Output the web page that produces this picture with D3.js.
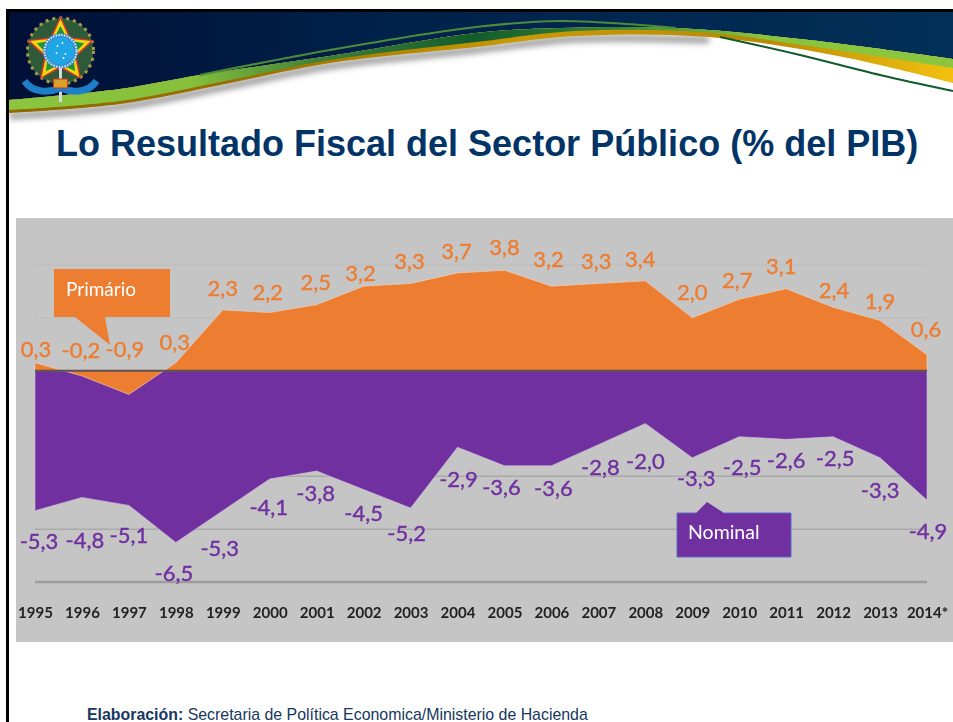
<!DOCTYPE html>
<html>
<head>
<meta charset="utf-8">
<script src="https://cdn.jsdelivr.net/npm/d3@7"></script>
<style>
  body { margin: 0; background: #fff; overflow: hidden; }
  svg { display: block; }
  .val { font-family: Lato, sans-serif; font-size: 22px; text-anchor: middle; stroke-width: 0.4px; }
  .tick text { font-family: Lato, sans-serif; font-size: 15px; font-weight: 700; fill: #222; }
</style>
</head>
<body>
<div id="chart"></div>
<script>
// Data
const years = ["1995","1996","1997","1998","1999","2000","2001","2002","2003","2004",
               "2005","2006","2007","2008","2009","2010","2011","2012","2013","2014*"];
const primario = [0.3,-0.2,-0.9,0.3,2.3,2.2,2.5,3.2,3.3,3.7,3.8,3.2,3.3,3.4,2.0,2.7,3.1,2.4,1.9,0.6];
const nominal = [-5.3,-4.8,-5.1,-6.5,-5.3,-4.1,-3.8,-4.5,-5.2,-2.9,-3.6,-3.6,-2.8,-2.0,-3.3,-2.5,-2.6,-2.5,-3.3,-4.9];
const gridTicks = [4,2,-2,-4,-6,-8];

// Hand placed label offsets from each point, the labels do not sit at a fixed distance
const primarioDx = [1,-1,-4,-1,0,-2,-1,-3,-1,-1,0,-3,-2,-5,0,-2,-5,1,0,-1];
const primarioDy = [-13,-26,-45,-20,-22,-20,-22,-13,-22,-22,-23,-27,-22,-22,-26,-19,-22,-17,-19,-26];
const nominalDx = [4,3,0,-2,-3,-1,-1,0,-4,1,-3,2,2,0,4,3,0,2,0,1];
const nominalDy = [31,43,30,31,38,28,22,24,25,32,22,23,23,38,20,31,21,22,32,31];

// Banner edges, decoration only
const bandTop = [[9,100],[120,89],[200,75],[330,56],[476,33],[560,28],[676,28],[809,40],[953,59]];
const greenBottom = [[9,110],[120,101],[230,80],[330,60],[476,42],[576,31],[700,32],[809,46],[953,68]];
const goldBottom = [[9,113],[120,104],[230,83],[330,63],[476,47],[576,36],[709,37],[843,57],[953,83]];
const thinLine = [[200,75],[330,50],[476,27],[560,21],[640,25],[676,28]];
const darkLine = [[720,37],[800,55],[880,75],[953,91]];

const orange = "#ed7d31", purple = "#7030a0", navy = "#17375e";

const svg = d3.select("#chart").append("svg")
    .attr("width", 953)
    .attr("height", 722);

const defs = svg.append("defs");

function gradient(id, stops) {
  const g = defs.append("linearGradient").attr("id", id)
    .attr("gradientUnits", "userSpaceOnUse")
    .attr("x1", 0).attr("x2", 953).attr("y1", 0).attr("y2", 0);
  stops.forEach(s => g.append("stop").attr("offset", s[0]).attr("stop-color", s[1]));
}
gradient("navyGrad", [[0,"#000f35"],[0.4,"#00214a"],[1,"#023058"]]);
gradient("greenGrad", [[0,"#8cc63f"],[0.2,"#86c03c"],[0.33,"#41823a"],[0.5,"#125c2c"],[0.66,"#3f8a36"],[0.8,"#86c53c"],[1,"#8cc63f"]]);
gradient("goldGrad", [[0,"#8f6a00"],[0.25,"#9a6f00"],[0.55,"#c99a06"],[0.8,"#b88a05"],[1,"#f2c10f"]]);
defs.append("filter").attr("id", "soft").append("feGaussianBlur").attr("stdDeviation", 3);
defs.append("filter").attr("id", "label").append("feGaussianBlur").attr("stdDeviation", 0.4);

// ---- Banner ----
const curve = d3.line().curve(d3.curveCatmullRom);
// closed band between an upper and a lower edge
const band = (top, bottom) => curve(top) + "L" + curve(bottom.slice().reverse()).slice(1) + "Z";

const banner = svg.append("g");
banner.append("rect").attr("x", 9).attr("y", 11).attr("width", 944).attr("height", 90).attr("fill", "url(#navyGrad)");
banner.append("path") // white below the band, covers the navy rectangle
  .attr("d", band(bandTop, [[9,125],[953,125]]))
  .attr("fill", "#fff");
banner.append("path") // shadow
  .attr("d", curve(goldBottom.slice(0, 7).map(p => [p[0], p[1] + 3])))
  .attr("fill", "none").attr("stroke", "#444").attr("stroke-width", 6).attr("opacity", 0.6)
  .attr("filter", "url(#soft)");
banner.append("path")
  .attr("d", band(bandTop, goldBottom))
  .attr("fill", "url(#goldGrad)");
banner.append("path")
  .attr("d", band(bandTop, greenBottom))
  .attr("fill", "url(#greenGrad)");
banner.append("path")
  .attr("d", curve(thinLine))
  .attr("fill", "none").attr("stroke", "#4b8b3a").attr("stroke-width", 2.2);
banner.append("path")
  .attr("d", curve(darkLine))
  .attr("fill", "none").attr("stroke", "#0f5a2c").attr("stroke-width", 2);

// frame
svg.append("rect").attr("x", 6).attr("y", 9).attr("width", 947).attr("height", 3).attr("fill", "#000");
svg.append("rect").attr("x", 6).attr("y", 9).attr("width", 3).attr("height", 713).attr("fill", "#000");

// ---- Emblem ----
const emblem = svg.append("g").attr("transform", "translate(60.5,51)");
emblem.append("circle").attr("r", 33).attr("fill", "#2f5a3a").attr("stroke", "#a89a4a").attr("stroke-width", 3).attr("stroke-dasharray", "3 4");
function star(R, r) {
  return d3.range(10).map(i => {
    const a = -Math.PI / 2 + i * Math.PI / 5, q = i % 2 ? r : R;
    return [q * Math.cos(a), q * Math.sin(a)];
  }).join(" ");
}
emblem.append("polygon").attr("points", star(35, 17)).attr("fill", "#d8352a");
emblem.append("polygon").attr("points", star(32, 15)).attr("fill", "#f4d80f");
emblem.append("polygon").attr("points", star(25, 13)).attr("fill", "#21913f");
emblem.append("circle").attr("r", 17.5).attr("fill", "#3a8fd0");
emblem.append("circle").attr("r", 16).attr("fill", "none").attr("stroke", "#e8f4fb").attr("stroke-width", 1.8).attr("stroke-dasharray", "1.4 1.4");
emblem.append("circle").attr("r", 13.5).attr("fill", "#1fa6e4");
emblem.selectAll("circle.st").data([[-3,-5],[2,-8],[5,3],[-4,2],[3,7]]).join("circle")
  .attr("class", "st").attr("cx", d => d[0]).attr("cy", d => d[1]).attr("r", 0.9).attr("fill", "#fff");
emblem.append("rect").attr("x", -1.5).attr("y", 17).attr("width", 3).attr("height", 34).attr("fill", "#d5dadf");
emblem.append("path")
  .attr("d", "M-36,30 C-28,42 -12,42 0,37 C12,42 28,42 36,30")
  .attr("fill", "none").attr("stroke", "#1c7fc8").attr("stroke-width", 7);
emblem.append("rect").attr("x", -7).attr("y", 28).attr("width", 14).attr("height", 9).attr("fill", "#d8a12a").attr("stroke", "#c8322a");

// ---- Title ----
svg.append("text")
  .attr("x", 56).attr("y", 156)
  .style("font-family", "'Liberation Sans', Arial, sans-serif")
  .style("font-size", "36px").style("font-weight", "700")
  .style("fill", "#003366")
  .text("Lo Resultado Fiscal del Sector Público (% del PIB)");

// ---- Chart ----
svg.append("rect").attr("x", 16).attr("y", 218).attr("width", 937).attr("height", 424).attr("fill", "#c5c5c5");

const x = d3.scalePoint().domain(years).range([35, 927]);
const y = d3.scaleLinear().domain([4, -8]).range([265, 582]);

// Gridlines
svg.selectAll("line.grid").data(gridTicks).join("line")
  .attr("class", "grid")
  .attr("x1", x.range()[0]).attr("x2", x.range()[1])
  .attr("y1", d => y(d)).attr("y2", d => y(d))
  .attr("stroke", d => d > 0 ? "#bcbcbc" : d === -8 ? "#9c9c9c" : "#aaaaaa")
  .attr("stroke-width", d => d > 0 ? 1 : d === -8 ? 2.5 : 1.5);

const area = d3.area()
  .x((d, i) => x(years[i]))
  .y0(y(0))
  .y1(d => y(d));

// Purple goes first, the small orange dip in 1997 sits on top of it
svg.append("path").datum(nominal)
  .attr("d", area).attr("fill", purple)
  .attr("stroke", "#d0c3da").attr("stroke-width", 0.6);
svg.append("path").datum(primario)
  .attr("d", area).attr("fill", orange)
  .attr("stroke", "#f1d3bd").attr("stroke-width", 0.6);

// zero line
svg.append("line")
  .attr("x1", x.range()[0]).attr("x2", x.range()[1])
  .attr("y1", y(0)).attr("y2", y(0))
  .attr("stroke", "#5f5050").attr("stroke-width", 2);

// Years
const xAxis = svg.append("g")
  .attr("transform", "translate(0,607)")
  .call(d3.axisBottom(x).tickSize(0).tickPadding(0));
xAxis.select(".domain").remove();
xAxis.selectAll("text").attr("filter", "url(#label)");

// Callouts
svg.append("path")
  .attr("d", "M54,269 H170 V317 H105 L110,345 L75,317 H54 Z")
  .attr("fill", orange);
svg.append("text").attr("x", 66).attr("y", 296)
  .style("font-family", "Lato, sans-serif").style("font-size", "19px").style("fill", "#fff")
  .attr("filter", "url(#label)").text("Primário");

svg.append("path")
  .attr("d", "M677,513 H696 L707,502 L724,513 H791 V557 H677 Z")
  .attr("fill", purple);
svg.append("path")
  .attr("d", "M724,513 H791 V557 H677 V513 H696")
  .attr("fill", "none").attr("stroke", "#5b6cc4").attr("stroke-width", 1);
svg.append("text").attr("x", 688).attr("y", 539)
  .style("font-family", "Lato, sans-serif").style("font-size", "19.5px").style("fill", "#fff")
  .attr("filter", "url(#label)").text("Nominal");

// Value labels
const fmt = v => d3.format(".1f")(v).replace(".", ",").replace("−", "-");

svg.selectAll("text.prim").data(primario).join("text")
  .attr("class", "val prim")
  .attr("x", (d, i) => x(years[i]) + primarioDx[i])
  .attr("y", (d, i) => y(d) + primarioDy[i])
  .attr("dy", ".35em")
  .attr("filter", "url(#label)")
  .style("fill", orange).style("stroke", orange)
  .text(fmt);

svg.selectAll("text.nom").data(nominal).join("text")
  .attr("class", "val nom")
  .attr("x", (d, i) => x(years[i]) + nominalDx[i])
  .attr("y", (d, i) => y(d) + nominalDy[i])
  .attr("dy", ".35em")
  .attr("filter", "url(#label)")
  .style("fill", purple).style("stroke", purple)
  .text(fmt);

// ---- Footer ----
const foot = svg.append("text")
  .attr("x", 87).attr("y", 720)
  .style("font-family", "'Liberation Sans', Arial, sans-serif")
  .style("font-size", "15.9px")
  .style("fill", navy);
foot.append("tspan").style("font-weight", "700").text("Elaboración:");
foot.append("tspan").text(" Secretaria de Política Economica/Ministerio de Hacienda");
</script>
</body>
</html>
